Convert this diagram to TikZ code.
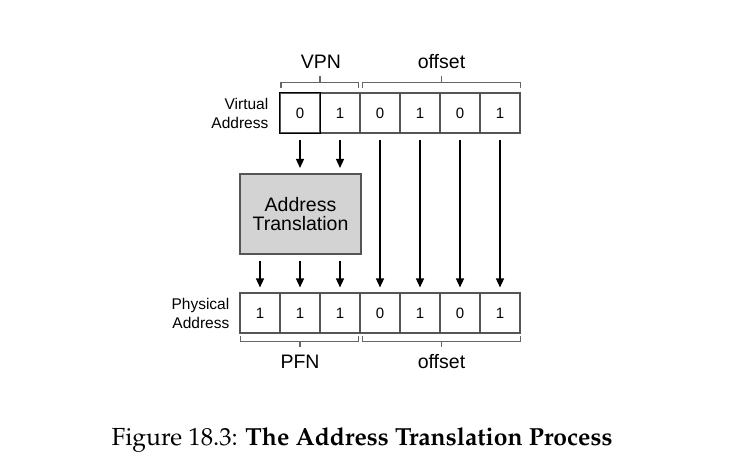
\documentclass[tikz,border=0pt]{standalone}
\usepackage[T1]{fontenc}
\usepackage{fontspec}
\setmainfont{Liberation Sans}
\usetikzlibrary{arrows.meta,positioning}
\definecolor{cellgray}{HTML}{555555}
\definecolor{brgray}{HTML}{666666}
\definecolor{boxgray}{HTML}{D3D3D3}
\begin{document}
\begin{tikzpicture}[x=1pt,y=-1pt,
  cell/.style={draw=cellgray,line width=1.1pt,minimum width=40pt,minimum height=40pt,inner sep=0pt,font=\fontsize{15}{17}\selectfont},
  lbl/.style={align=right,anchor=east,inner sep=0pt,font=\fontsize{15.5}{19}\selectfont},
  brk/.style={draw=brgray,line width=1.1pt},
  hdr/.style={inner sep=0pt,font=\fontsize{19.5}{22}\selectfont},
  arr/.style={line width=1.4pt,-{Triangle[length=9pt,width=8pt]}}
]
\useasboundingbox (0,0) rectangle (735,463);
% virtual address cells
\foreach \i/\b [count=\k] in {0/0,1/1,2/0,3/1,4/0,5/1}{
  \node[cell] (v\k) at (300+40*\i,113) {\b};
}
\draw[black,line width=1.1pt] (v1.north west) rectangle (v1.south east);
% physical address cells
\foreach \i/\b [count=\k] in {0/1,1/1,2/1,3/0,4/1,5/0,6/1}{
  \node[cell] (p\k) at (260+40*\i,313) {\b};
}
\node[lbl] (vl) at (268.5,113.5) {Virtual\\Address};
\node[lbl] (pl) at (229.5,313.5) {Physical\\Address};
% translation box
\node[draw=cellgray,line width=1.1pt,fill=boxgray,minimum width=121pt,minimum height=80pt,inner sep=0pt,align=center,font=\fontsize{19.5}{19}\selectfont] (at) at (300.5,214) {Address\\Translation};
% top brackets
\coordinate (b1l) at (281,87.5); \coordinate (b1r) at (358.5,87.5);
\coordinate (b2l) at (362.5,87.5); \coordinate (b2r) at (520.5,87.5);
\draw[brk] (b1l) -- ++(0,-5) -| (b1r);
\draw[brk] (320,82.5) -- ++(0,-6.5);
\draw[brk] (b2l) -- ++(0,-5) -| (b2r);
\draw[brk] (441.5,82.5) -- ++(0,-6.5);
\node[hdr] (vpn) at (321,62) {VPN};
\node[hdr] (off1) at (441.5,62) {offset};
% bottom brackets
\coordinate (c1l) at (240.5,336); \coordinate (c1r) at (358.5,336);
\coordinate (c2l) at (362.5,336); \coordinate (c2r) at (520.5,336);
\draw[brk] (c1l) -- ++(0,5.5) -| (c1r);
\draw[brk] (300,341.5) -- ++(0,5);
\draw[brk] (c2l) -- ++(0,5.5) -| (c2r);
\draw[brk] (441.5,341.5) -- ++(0,5);
\node[hdr] (pfn) at (300,361.5) {PFN};
\node[hdr] (off2) at (441.5,361.5) {offset};
% arrows
\draw[arr,shorten <=6pt,shorten >=5.5pt] (v1.south) -- (v1.south |- at.north);
\draw[arr,shorten <=6pt,shorten >=5.5pt] (v2.south) -- (v2.south |- at.north);
\foreach \k in {1,2,3}{
  \draw[arr,shorten <=6pt,shorten >=5pt] (p\k.north |- at.south) -- (p\k.north);
}
\foreach \a/\b in {3/4,4/5,5/6,6/7}{
  \draw[arr,shorten <=6pt,shorten >=5pt] (v\a.south) -- (p\b.north);
}
% caption
\node[inner sep=0pt,anchor=base] (cap) at (362,445) {\fontencoding{T1}\fontfamily{ppl}\fontsize{24.7}{28}\selectfont Figure 18.3: \textbf{The Address Translation Process}};
\end{tikzpicture}
\end{document}
